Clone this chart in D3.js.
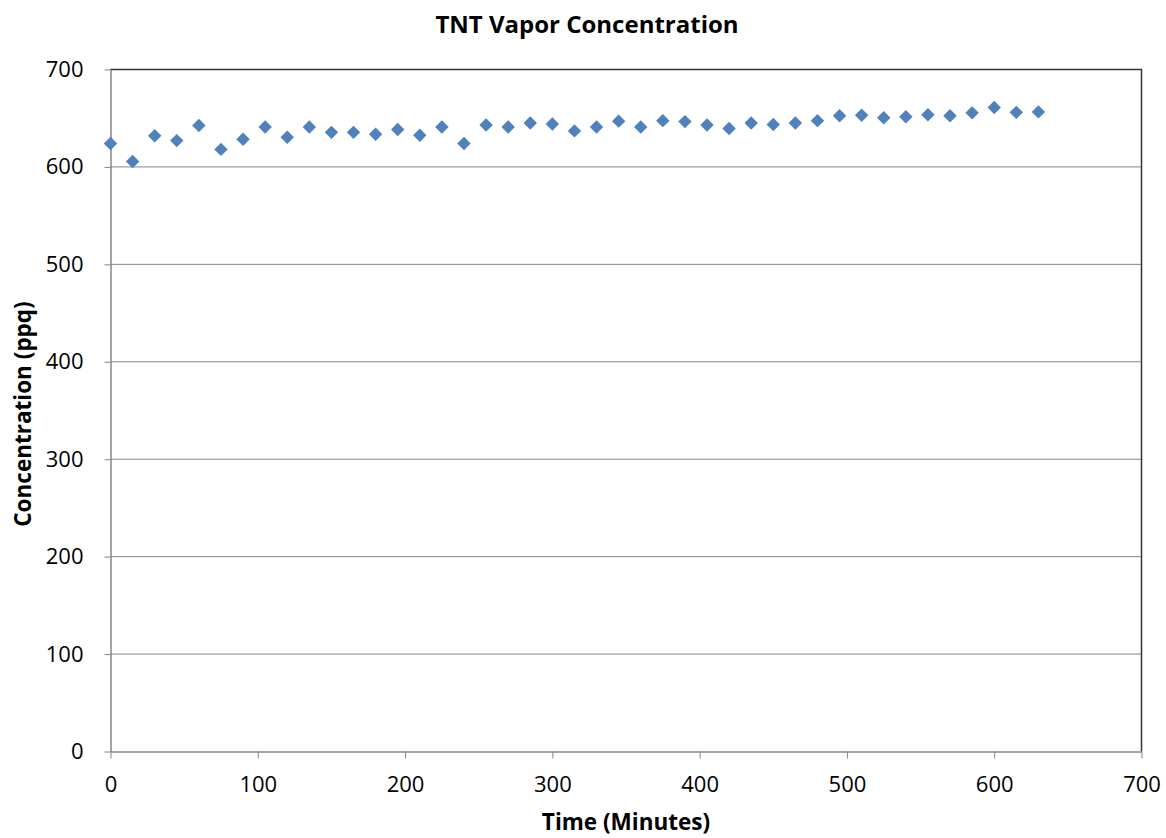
<!DOCTYPE html>
<html>
<head>
<meta charset="utf-8">
<script src="https://cdn.jsdelivr.net/npm/d3@7"></script>
<style>
  html, body { margin: 0; padding: 0; background: #fff; }
  svg text { font-family: "Open Sans", "Noto Sans", sans-serif; fill: #000; }
</style>
</head>
<body>
<svg id="chart" width="1166" height="838"></svg>
<script>
// Sampling times (minutes) and measured TNT vapor concentration (ppq)
const timeMinutes = [0, 15, 30, 45, 60, 75, 90, 105, 120, 135, 150, 165, 180, 195, 210,
  225, 240, 255, 270, 285, 300, 315, 330, 345, 360, 375, 390, 405, 420, 435,
  450, 465, 480, 495, 510, 525, 540, 555, 570, 585, 600, 615, 630];
const concentrationPpq = [624, 605.5, 632, 627, 642.5, 618, 628.5, 641, 630.5, 641, 635.5, 635.5, 633.5, 638.5, 632.5,
  641, 624, 643, 641, 645, 644, 637, 641, 647, 641, 647.5, 646.5, 643, 639.5, 645,
  643.5, 645, 647.5, 652.5, 653, 650.5, 651.5, 653.5, 652.5, 655.5, 661, 656, 656.5];
const xTicks = [0, 100, 200, 300, 400, 500, 600, 700];
const yTicks = [0, 100, 200, 300, 400, 500, 600, 700];

const svg = d3.select("#chart");
const plot = { left: 110.5, right: 1141.5, top: 69.5, bottom: 751.5 };

const x = d3.scaleLinear().domain([0, 700]).range([plot.left, plot.right]);
const y = d3.scaleLinear().domain([0, 700]).range([plot.bottom, plot.top]);

// Horizontal gridlines
svg.append("g")
  .selectAll("line")
  .data(yTicks.filter(d => d > 0))
  .join("line")
  .attr("x1", plot.left).attr("x2", plot.right)
  .attr("y1", d => y(d)).attr("y2", d => y(d))
  .attr("stroke", "#868686").attr("stroke-width", 1);

// Plot-area frame (top and right)
svg.append("path")
  .attr("d", `M${plot.left},${plot.top}H${plot.right}V${plot.bottom}`)
  .attr("fill", "none").attr("stroke", "#333").attr("stroke-width", 1.5);

// Y axis
const yAxis = svg.append("g")
  .attr("transform", `translate(${plot.left},0)`)
  .call(d3.axisLeft(y).tickValues(yTicks).tickSize(6).tickPadding(21).tickSizeOuter(0));
yAxis.select(".domain").attr("stroke", "#868686").attr("stroke-width", 1.5);
yAxis.selectAll(".tick line").attr("stroke", "#868686");
yAxis.selectAll(".tick text")
  .attr("font-size", 22).attr("font-family", "Open Sans, sans-serif").attr("fill", "#000");

// X axis
const xAxis = svg.append("g")
  .attr("transform", `translate(0,${plot.bottom})`)
  .call(d3.axisBottom(x).tickValues(xTicks).tickSize(7).tickPadding(18).tickSizeOuter(0));
xAxis.select(".domain").attr("stroke", "#868686").attr("stroke-width", 1.5);
xAxis.selectAll(".tick line").attr("stroke", "#868686");
xAxis.selectAll(".tick text")
  .attr("font-size", 22).attr("font-family", "Open Sans, sans-serif").attr("fill", "#000");

// Data markers (diamonds)
const diamond = d3.symbol().type(d3.symbolDiamond2).size(115);
svg.append("g")
  .selectAll("path")
  .data(timeMinutes.map((t, i) => [t, concentrationPpq[i]]))
  .join("path")
  .attr("d", diamond)
  .attr("transform", d => `translate(${x(d[0])},${y(d[1])})`)
  .attr("fill", "#4F81BD");

// Titles
svg.append("text")
  .attr("x", 587).attr("y", 33)
  .attr("text-anchor", "middle")
  .attr("font-size", 24).attr("font-weight", "bold")
  .text("TNT Vapor Concentration");

svg.append("text")
  .attr("x", 626).attr("y", 830)
  .attr("text-anchor", "middle")
  .attr("font-size", 22.5).attr("font-weight", "bold")
  .text("Time (Minutes)");

svg.append("text")
  .attr("transform", "translate(31,414) rotate(-90)")
  .attr("text-anchor", "middle")
  .attr("font-size", 22.5).attr("font-weight", "bold")
  .text("Concentration (ppq)");
</script>
</body>
</html>
